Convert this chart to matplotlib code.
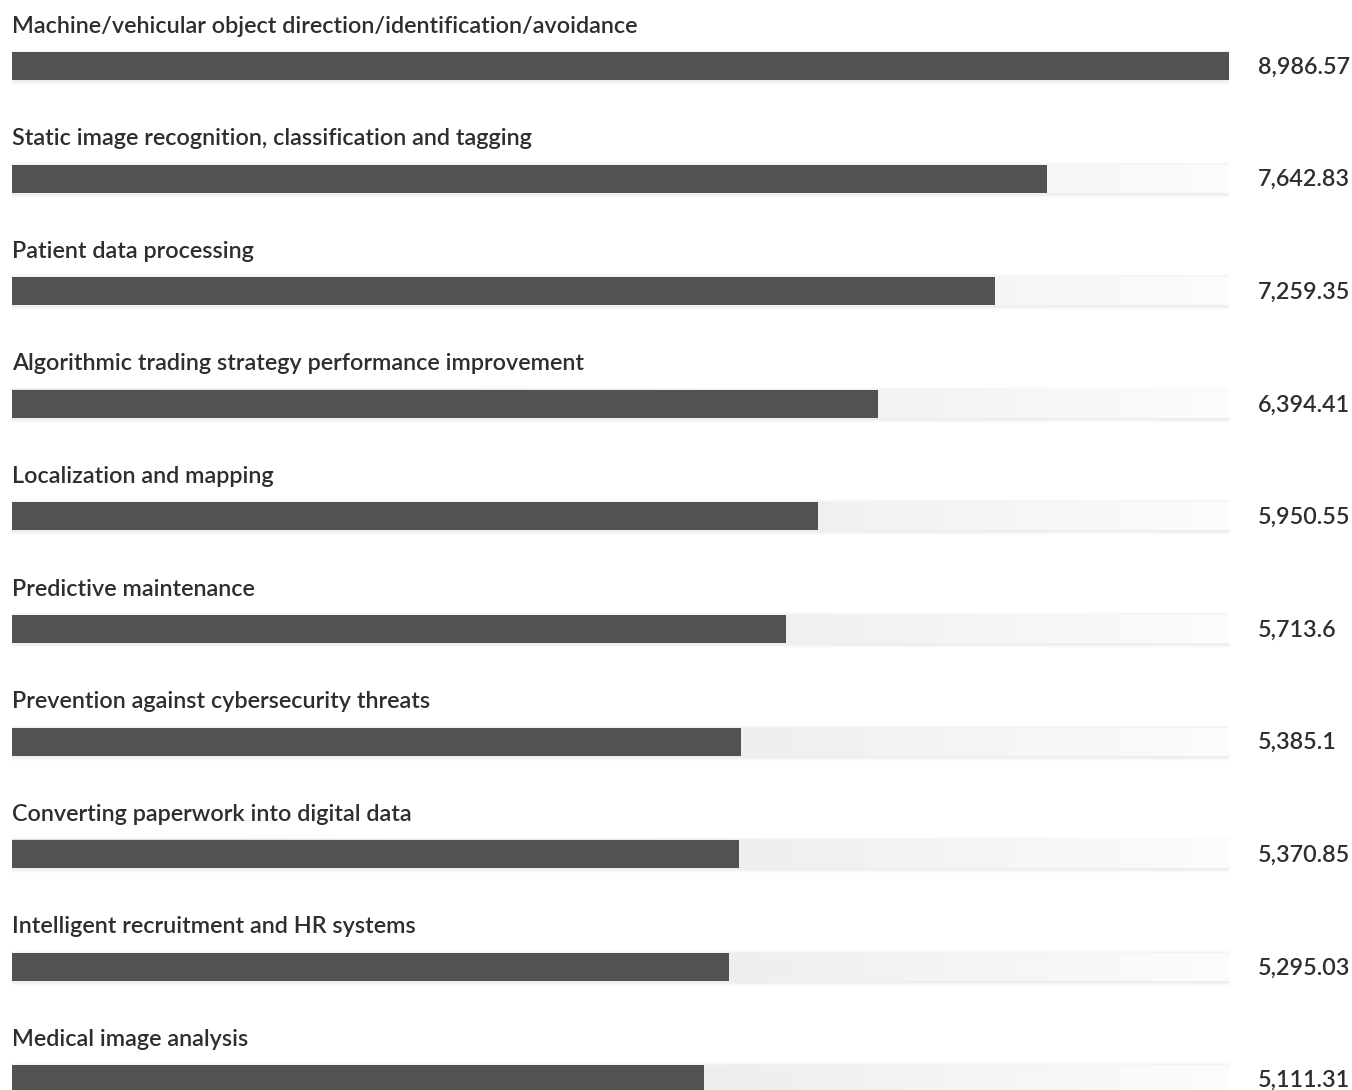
import numpy as np
import matplotlib.pyplot as plt
from matplotlib.colors import LinearSegmentedColormap

plt.rcParams['font.family'] = ['Lato', 'DejaVu Sans']

categories = [
    "Machine/vehicular object direction/identification/avoidance",
    "Static image recognition, classification and tagging",
    "Patient data processing",
    "Algorithmic trading strategy performance improvement",
    "Localization and mapping",
    "Predictive maintenance",
    "Prevention against cybersecurity threats",
    "Converting paperwork into digital data",
    "Intelligent recruitment and HR systems",
    "Medical image analysis",
]
values = [8986.57, 7642.83, 7259.35, 6394.41, 5950.55, 5713.6, 5385.1, 5370.85, 5295.03, 5111.31]
value_labels = ["8,986.57", "7,642.83", "7,259.35", "6,394.41", "5,950.55",
                "5,713.6", "5,385.1", "5,370.85", "5,295.03", "5,111.31"]

W, H = 1352, 1090
fig = plt.figure(figsize=(W / 100, H / 100), dpi=100)
fig.patch.set_facecolor("white")

# axes: x in value units over the track, y in row units
left_px, track_px = 12, 1217
ax = fig.add_axes([left_px / W, 0, track_px / W, 1])
vmax = max(values)
pitch, first = 112.6, 66
ax.set_xlim(0, vmax)
ax.set_ylim((H - first) / pitch, -first / pitch)
ax.axis("off")

bar_h = 28 / pitch
track_cmap = LinearSegmentedColormap.from_list("track", ["#dedede", "#ebebeb", "#fcfcfc"])
grad = np.linspace(0, 1, 256).reshape(1, -1)
px_x = vmax / track_px  # one pixel in value units

for i, (cat, v, lab) in enumerate(zip(categories, values, value_labels)):
    # soft shadow around the track
    for k, a in [(4, 0.03), (3, 0.04), (2, 0.05), (1, 0.06)]:
        ax.add_patch(plt.Rectangle((-k * px_x, i - bar_h / 2 - k / pitch + 1 / pitch),
                                   vmax + 2 * k * px_x, bar_h + 2 * k / pitch,
                                   facecolor="#a8a8a8", edgecolor="none", alpha=a, zorder=1))
    ax.imshow(grad, cmap=track_cmap, aspect="auto",
              extent=(0, vmax, i + bar_h / 2, i - bar_h / 2), zorder=2)
    ax.barh(i, v, height=bar_h, left=0, color="#525252", edgecolor="none", zorder=3)
    ax.text(0, i - 40 / pitch, cat, fontsize=16.8, fontweight="semibold", color="#2e2e2e",
            ha="left", va="center", zorder=4)
    ax.text(vmax + 29 * px_x, i + 1 / pitch, lab, fontsize=16.8, fontweight="semibold",
            color="#2e2e2e", ha="left", va="center", zorder=4, clip_on=False)

fig.savefig("out.png", dpi=100, facecolor="white")
